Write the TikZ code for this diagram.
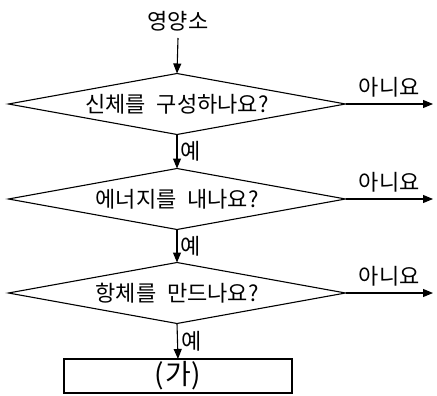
\documentclass[tikz,border=0pt]{standalone}
\usepackage{fontspec}
\setmainfont{Noto Sans CJK KR}[WordSpace=2.2]
\usetikzlibrary{shapes.geometric,arrows.meta}
\begin{document}
\begin{tikzpicture}[x=1pt,y=-1pt,
  line width=1.1pt,
  decision/.style={draw, diamond, shape aspect=5.5, minimum width=337pt, minimum height=61pt, inner sep=0pt, outer sep=0pt, font=\fontsize{22}{22}\selectfont},
  resultbox/.style={draw, rectangle, minimum width=228pt, minimum height=34pt, inner sep=0pt, outer sep=0pt, font=\fontsize{28}{28}\selectfont},
  lbl/.style={font=\fontsize{22}{22}\selectfont, inner sep=0pt},
  arr/.style={-{Triangle[length=10pt,width=8pt]}}]
\useasboundingbox (0,0) rectangle (437,396);
\node[lbl] (start) at (178,21) {영양소};
\node[decision] (d1) at (177,104) {신체를 구성하나요?};
\node[decision] (d2) at (177,199) {에너지를 내나요?};
\node[decision] (d3) at (177,293) {항체를 만드나요?};
\node[resultbox] (res) at (178,376) {(\kern1pt가\kern1pt)};
\coordinate (n1) at (433,104);
\coordinate (n2) at (433,199);
\coordinate (n3) at (433,293);
\draw[arr] (178,38) -- (d1.north);
\draw[arr] (d1.south) -- (d2.north) node[lbl, midway, right=3pt] (y1) {예};
\draw[arr] (d2.south) -- (d3.north) node[lbl, midway, right=3pt] (y2) {예};
\draw[arr] (d3.south) -- (res.north) node[lbl, midway, right=3pt] (y3) {예};
\draw[arr] (d1.east) -- (n1) node[lbl, midway, above=6pt] (no1) {아니요};
\draw[arr] (d2.east) -- (n2) node[lbl, midway, above=6pt] (no2) {아니요};
\draw[arr] (d3.east) -- (n3) node[lbl, midway, above=6pt] (no3) {아니요};
\end{tikzpicture}
\end{document}
